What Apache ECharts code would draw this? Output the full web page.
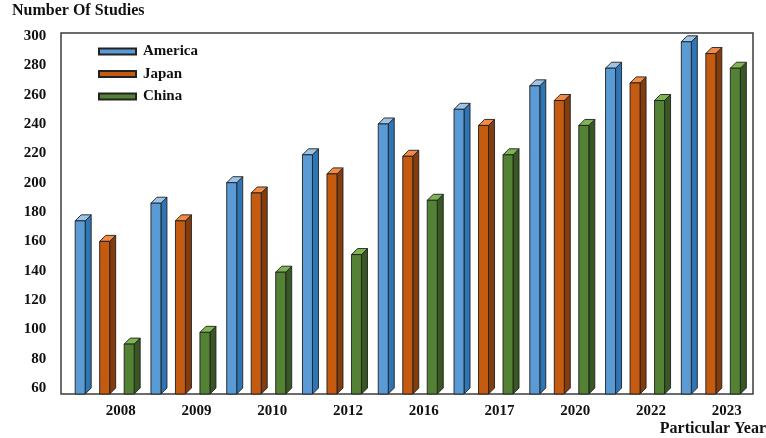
<!DOCTYPE html>
<html>
<head>
<meta charset="utf-8">
<script src="https://cdn.jsdelivr.net/npm/echarts@6/dist/echarts.min.js"></script>
<style>
  html, body { margin: 0; padding: 0; background: #fff; }
  #chart { width: 766px; height: 438px; }
</style>
</head>
<body>
<div id="chart"></div>
<script>
// Study counts per year, by country
const years = ['2008', '2009', '2010', '2012', '2016', '2017', '2020', '2022', '2023'];
const america = [174, 186, 200, 219, 240, 250, 266, 278, 296];
const japan = [160, 174, 193, 206, 218, 239, 256, 268, 288];
const china = [90, 98, 139, 151, 188, 219, 239, 256, 278];
const yTicks = [60, 80, 100, 120, 140, 160, 180, 200, 220, 240, 260, 280, 300];

const FONT = "'Liberation Serif', 'Times New Roman', serif";

// Face colours for the pseudo-3D columns: front, side, top
const palettes = [
  { front: '#5B9BD5', side: '#2E75B6', top: '#9DC3E6' },
  { front: '#C55A11', side: '#843C0C', top: '#F08A45' },
  { front: '#548235', side: '#385723', top: '#7CB552' }
];
// Horizontal offset of each column's front face from the band centre (px)
const offsets = [-30, -5.5, 19];
const FRONT_W = 10;
const DEPTH = 6;

function makeRender(si) {
  return function (params, api) {
    const idx = api.value(0);
    const top = api.coord([idx, api.value(1)]);
    const cs = params.coordSys;
    const baseY = cs.y + cs.height;
    const x0 = top[0] + offsets[si];
    const x1 = x0 + FRONT_W;
    const y0 = top[1];
    const pal = palettes[si];
    const edge = { stroke: '#1f1f1f', lineWidth: 0.9 };
    return {
      type: 'group',
      children: [
        {
          type: 'polygon',
          shape: { points: [[x1, y0], [x1 + DEPTH, y0 - DEPTH], [x1 + DEPTH, baseY - DEPTH], [x1, baseY]] },
          style: Object.assign({ fill: pal.side }, edge)
        },
        {
          type: 'polygon',
          shape: { points: [[x0, y0], [x0 + DEPTH, y0 - DEPTH], [x1 + DEPTH, y0 - DEPTH], [x1, y0]] },
          style: Object.assign({ fill: pal.top }, edge)
        },
        {
          type: 'rect',
          shape: { x: x0, y: y0, width: FRONT_W, height: baseY - y0 },
          style: Object.assign({ fill: pal.front }, edge)
        }
      ]
    };
  };
}

function seriesFor(name, values, si) {
  return {
    type: 'custom',
    name: name,
    renderItem: makeRender(si),
    data: values.map((v, i) => [i, v]),
    encode: { x: 0, y: 1 },
    itemStyle: { color: palettes[si].front, borderColor: '#222', borderWidth: 1 },
    clip: false
  };
}

const chart = echarts.init(document.getElementById('chart'), null, { renderer: 'canvas' });
chart.setOption({
  animation: false,
  backgroundColor: '#fff',
  grid: { left: 67.3, right: 16.8, top: 33, bottom: 44, containLabel: false },
  xAxis: {
    type: 'category',
    data: years,
    axisLine: { show: false },
    axisTick: { show: false },
    axisLabel: {
      margin: 10,
      color: '#111',
      fontFamily: FONT,
      fontWeight: 'bold',
      fontSize: 15,
      padding: [0, 0, 0, 31]
    }
  },
  yAxis: {
    type: 'value',
    min: 56,
    max: 302,
    axisLine: { show: false },
    axisTick: { show: false },
    splitLine: { show: false },
    axisLabel: {
      customValues: yTicks,
      margin: 21,
      color: '#111',
      fontFamily: FONT,
      fontWeight: 'bold',
      fontSize: 15
    }
  },
  legend: {
    orient: 'vertical',
    left: 93,
    top: 39,
    itemWidth: 37,
    itemHeight: 6,
    itemGap: 7.5,
    icon: 'rect',
    data: ['America', 'Japan', 'China'],
    textStyle: {
      color: '#111',
      fontFamily: FONT,
      fontWeight: 'bold',
      fontSize: 15,
      padding: [0, 0, 0, 2]
    }
  },
  graphic: [
    {
      type: 'rect',
      z: 1,
      shape: { x: 61, y: 33, width: 692, height: 361 },
      style: { fill: 'none', stroke: '#3c3c3c', lineWidth: 1.5 }
    },
    {
      type: 'text',
      left: 12,
      top: 3,
      style: { text: 'Number Of Studies', fill: '#111', font: 'bold 16px ' + FONT }
    },
    {
      type: 'text',
      right: 0,
      top: 421,
      style: { text: 'Particular Year', fill: '#111', font: 'bold 16px ' + FONT }
    }
  ],
  series: [
    seriesFor('America', america, 0),
    seriesFor('Japan', japan, 1),
    seriesFor('China', china, 2)
  ]
});
</script>
</body>
</html>
